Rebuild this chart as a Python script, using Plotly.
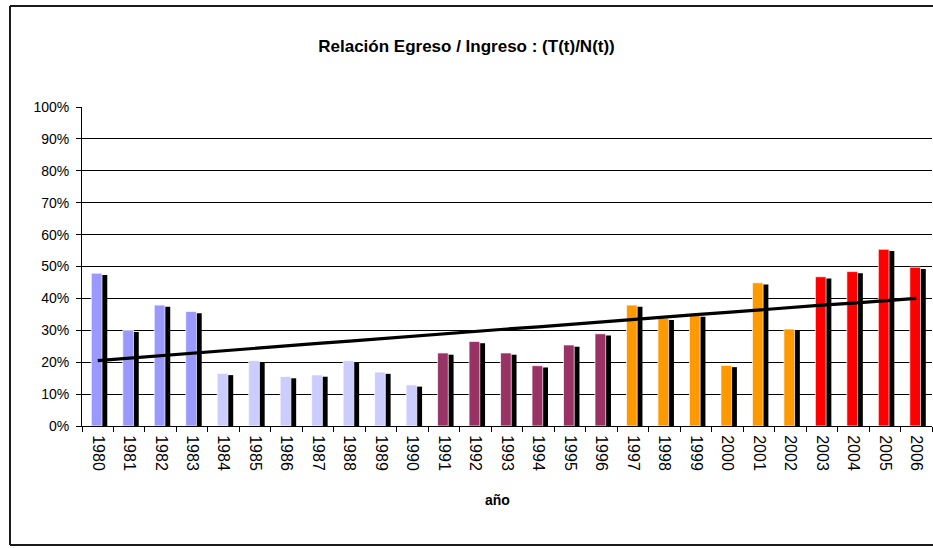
import plotly.graph_objects as go

# Years on the category axis
years = ["1980", "1981", "1982", "1983", "1984", "1985", "1986", "1987", "1988",
         "1989", "1990", "1991", "1992", "1993", "1994", "1995", "1996", "1997",
         "1998", "1999", "2000", "2001", "2002", "2003", "2004", "2005", "2006"]

# Egreso / Ingreso ratio per year
ratio = [0.479, 0.300, 0.379, 0.359, 0.165, 0.205, 0.155, 0.160, 0.205,
         0.169, 0.129, 0.229, 0.265, 0.229, 0.189, 0.254, 0.289, 0.379,
         0.338, 0.348, 0.190, 0.449, 0.304, 0.468, 0.484, 0.554, 0.498]

# Tendency line
trend = [0.205, 0.213, 0.220, 0.229, 0.236, 0.244, 0.251, 0.259, 0.266,
         0.274, 0.281, 0.290, 0.296, 0.304, 0.311, 0.319, 0.326, 0.334,
         0.341, 0.349, 0.356, 0.364, 0.371, 0.379, 0.385, 0.392, 0.400]

# Period groups (number of years in each) and their colours
group_sizes = [4, 7, 6, 6, 4]
group_colors = ["#9999FF", "#CCCCFF", "#993366", "#FF9900", "#FF0000"]

bar_colors = []
for n, c in zip(group_sizes, group_colors):
    bar_colors += [c] * n

# Page geometry (pixels)
W, H = 933, 548
ML, MR, MT, MB = 82, 1, 107, 122
PW, PH = W - ML - MR, H - MT - MB


def px_x(p):
    return (p - ML) / PW


def px_y(p):
    return (H - MB - p) / PH


FONT = "Liberation Sans, Arial, sans-serif"
SHADOW_DROP = 0.0055

fig = go.Figure()

# Drop shadow behind every bar
fig.add_trace(go.Bar(
    x=years, y=ratio, base=[-SHADOW_DROP] * len(ratio),
    width=0.34, offset=-0.037,
    marker=dict(color="#000000", line=dict(width=0)),
    hoverinfo="skip", showlegend=False,
))

# Coloured bars
fig.add_trace(go.Bar(
    x=years, y=ratio,
    width=0.34, offset=-0.205,
    marker=dict(color=bar_colors, line=dict(color="rgba(255,255,255,0.7)", width=1)),
    showlegend=False,
))

# Trend line
fig.add_trace(go.Scatter(
    x=years, y=trend, mode="lines",
    line=dict(color="#000000", width=3.2),
    showlegend=False,
))

# Chart-area frame: left, top and bottom edges (the right edge runs off the page)
frame_left, frame_top, frame_bottom, frame_right = 10, 6, 545, 1100
frame_style = dict(color="#1a1a1a", width=2)
frame = [
    dict(type="line", xref="paper", yref="paper",
         x0=px_x(frame_left), x1=px_x(frame_left),
         y0=px_y(frame_bottom), y1=px_y(frame_top), line=frame_style),
    dict(type="line", xref="paper", yref="paper",
         x0=px_x(frame_left), x1=px_x(frame_right),
         y0=px_y(frame_top), y1=px_y(frame_top), line=frame_style),
    dict(type="line", xref="paper", yref="paper",
         x0=px_x(frame_left), x1=px_x(frame_right),
         y0=px_y(frame_bottom), y1=px_y(frame_bottom), line=frame_style),
]

fig.update_layout(
    width=W, height=H,
    margin=dict(l=ML, r=MR, t=MT, b=MB),
    paper_bgcolor="white", plot_bgcolor="white",
    barmode="overlay",
    font=dict(family=FONT, color="#000000"),
    title=dict(
        text="Relación Egreso / Ingreso : (T(t)/N(t))",
        font=dict(family=FONT, size=17, color="#000000", weight="bold"),
        xref="container", x=0.5, xanchor="center",
        yref="container", y=1 - 46 / H, yanchor="middle",
    ),
    xaxis=dict(
        type="category",
        showline=True, linecolor="#000000", linewidth=1,
        ticks="outside", ticklen=5, tickcolor="#000000", tickwidth=1,
        tickson="boundaries",
        tickangle=90,
        ticklabelstandoff=5,
        tickfont=dict(family=FONT, size=16, color="#000000"),
        showgrid=False,
        range=[-0.5, len(years) - 0.5],
    ),
    yaxis=dict(
        range=[0, 1], dtick=0.1, tickformat=".0%",
        showline=True, linecolor="#000000", linewidth=1,
        ticks="outside", ticklen=5, tickcolor="#000000", tickwidth=1,
        ticklabelstandoff=4,
        tickfont=dict(family=FONT, size=14, color="#000000"),
        showgrid=True, gridcolor="#000000", gridwidth=1,
        zeroline=False,
    ),
    annotations=[dict(
        text="año", xref="paper", yref="paper",
        x=px_x(497), y=px_y(500), xanchor="center", yanchor="middle",
        showarrow=False,
        font=dict(family=FONT, size=14, color="#000000", weight="bold"),
    )],
    shapes=frame,
)

fig.write_html("out.html")
